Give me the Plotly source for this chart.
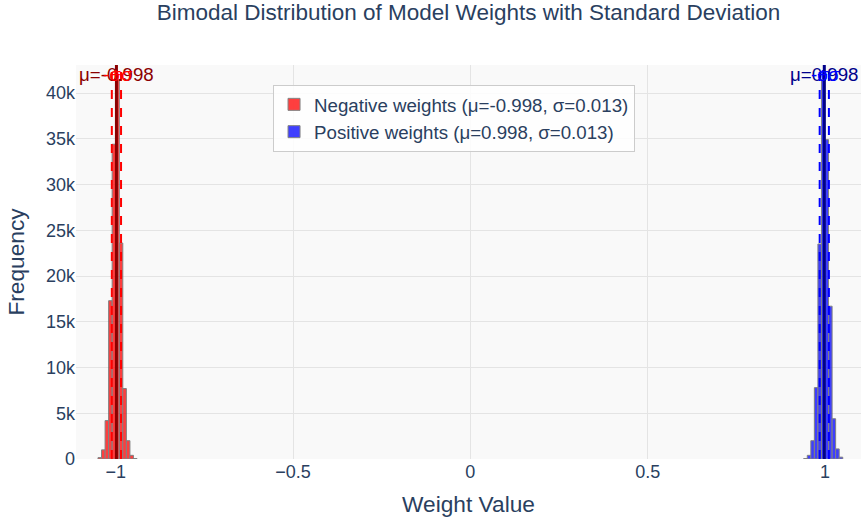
import plotly.graph_objects as go

# ---- data ----
neg_bin_centers = [-1.045, -1.035, -1.025, -1.015, -1.005, -0.995, -0.985, -0.975, -0.965, -0.955, -0.945]
neg_counts = [150, 1000, 4200, 17300, 34400, 41500, 23600, 7700, 2000, 400, 50]
pos_bin_centers = [0.945, 0.955, 0.965, 0.975, 0.985, 0.995, 1.005, 1.015, 1.025, 1.035, 1.045]
pos_counts = [50, 400, 2000, 7800, 23500, 41500, 34900, 16700, 4400, 1100, 200]
bin_width = 0.01

neg_mu, neg_sigma = -0.998, 0.013
pos_mu, pos_sigma = 0.998, 0.013

FONT = "Liberation Sans, Arial, sans-serif"
TXT = "#2a3f5f"

fig = go.Figure()
fig.add_trace(go.Bar(
    x=neg_bin_centers, y=neg_counts, width=bin_width,
    name=f"Negative weights (μ={neg_mu:.3f}, σ={neg_sigma:.3f})",
    marker=dict(color="red", line=dict(color="rgb(90,90,90)", width=1)),
    opacity=0.75,
))
fig.add_trace(go.Bar(
    x=pos_bin_centers, y=pos_counts, width=bin_width,
    name=f"Positive weights (μ={pos_mu:.3f}, σ={pos_sigma:.3f})",
    marker=dict(color="blue", line=dict(color="rgb(90,90,90)", width=1)),
    opacity=0.75,
))

for mu, sg, c_mean, c_sd in [(neg_mu, neg_sigma, "darkred", "red"),
                             (pos_mu, pos_sigma, "darkblue", "blue")]:
    fig.add_vline(x=mu, line=dict(color=c_mean, width=3))
    fig.add_vline(x=mu - sg, line=dict(color=c_sd, width=2, dash="dash"))
    fig.add_vline(x=mu + sg, line=dict(color=c_sd, width=2, dash="dash"))
    fig.add_annotation(x=mu, y=1, xref="x", yref="paper", yanchor="top", xanchor="center",
                       text=f"μ={mu:.3f}", showarrow=False, yshift=3,
                       font=dict(color=c_mean, size=18.7, family=FONT))
    fig.add_annotation(x=mu - sg, y=1, xref="x", yref="paper", yanchor="top", xanchor="center",
                       text="-σ", showarrow=False, yshift=3,
                       font=dict(color=c_sd, size=18.7, family=FONT))
    fig.add_annotation(x=mu + sg, y=1, xref="x", yref="paper", yanchor="top", xanchor="center",
                       text="+σ", showarrow=False, yshift=3,
                       font=dict(color=c_sd, size=18.7, family=FONT))

fig.update_layout(
    width=861, height=524,
    margin=dict(l=76, r=0, t=65, b=65),
    barmode="overlay",
    paper_bgcolor="white",
    plot_bgcolor="#f9f9f9",
    font=dict(family=FONT, size=18, color=TXT),
    title=dict(text="Bimodal Distribution of Model Weights with Standard Deviation",
               x=0.5, xref="paper", xanchor="center", y=1 - 12 / 524, yanchor="middle",
               font=dict(size=22.5, color=TXT, family=FONT)),
    legend=dict(x=0.251, y=0.95, xanchor="left", yanchor="top",
                bgcolor="rgba(255,255,255,0.85)", bordercolor="#cccccc", borderwidth=1,
                font=dict(size=18.7, color=TXT, family=FONT)),
    xaxis=dict(title=dict(text="Weight Value", font=dict(size=22.7)),
               range=[-1.112, 1.1015], dtick=0.5, tick0=0,
               gridcolor="#e4e4e4", zeroline=False, showline=False),
    yaxis=dict(title=dict(text="Frequency", font=dict(size=22.7)),
               range=[0, 43060], dtick=5000,
               gridcolor="#e4e4e4", zeroline=False, showline=False),
)

fig.write_html("out.html", config={"displayModeBar": False},
               post_script="document.body.style.margin='0px';")
